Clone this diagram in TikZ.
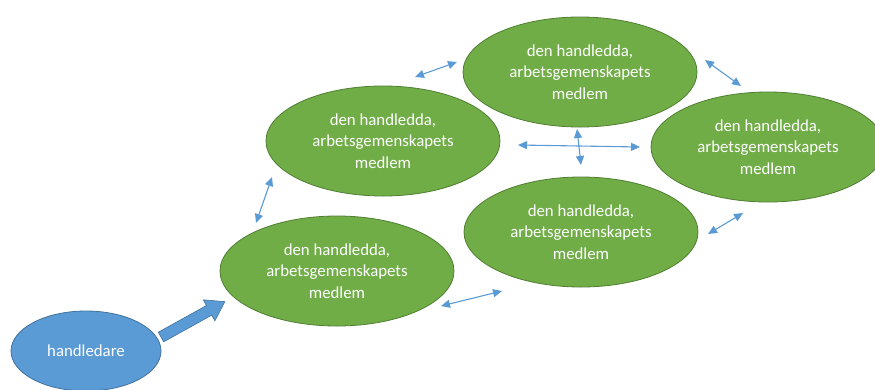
\documentclass[tikz,border=0pt]{standalone}
\usepackage{fontspec}
\setmainfont{Carlito}
\usetikzlibrary{shapes.geometric, arrows.meta}
\definecolor{memberfill}{HTML}{70AD47}
\definecolor{memberline}{HTML}{507E32}
\definecolor{leadfill}{HTML}{5B9BD5}
\definecolor{leadline}{HTML}{41719C}
\newcommand{\Medlem}{den handledda,\\ arbetsgemenskapets\\ medlem}

\begin{document}
\begin{tikzpicture}[x=1pt,y=-1pt,
    member/.style={ellipse, draw=memberline, fill=memberfill, line width=0.8pt,
        minimum width=234pt, minimum height=110pt, inner sep=0pt,
        align=center, text=white, font=\fontsize{16.8}{21.5}\selectfont},
    lead/.style={ellipse, draw=leadline, fill=leadfill, line width=0.8pt,
        minimum width=150pt, minimum height=80pt, inner sep=0pt,
        text=white, font=\fontsize{16.8}{21.5}\selectfont},
    link/.style={draw=leadfill, line width=1.1pt,
        {Triangle[length=9pt,width=8pt]}-{Triangle[length=9pt,width=8pt]}}]
    \useasboundingbox (0,0) rectangle (875,389);
    \clip (0,0) rectangle (875,389);

    % the group members
    \path (580,72) node (T) [member] {\Medlem};
    \path (383,141) node (ML) [member] {\Medlem};
    \path (768,147) node (R) [member] {\Medlem};
    \path (581,232) node (MR) [member] {\Medlem};
    \path (337,271) node (BL) [member] {\Medlem};

    % the supervisor
    \path (86,351) node (H) [lead] {handledare};

    % free ends of the small arrows
    \path (415,77) coordinate (a1) (457,62) coordinate (b1);
    \path (256,223) coordinate (a2) (272,177) coordinate (b2);
    \path (441,306) coordinate (a3) (502,291) coordinate (b3);
    \path (518,145) coordinate (a4) (640,147) coordinate (b4);
    \path (577,129) coordinate (a5) (581,165) coordinate (b5);
    \path (705,60) coordinate (a6) (741,86) coordinate (b6);
    \path (708,234) coordinate (a7) (743,213) coordinate (b7);

    \foreach \k in {1,...,7}{
        \draw [link] (a\k) -- (b\k);
    }

    % block arrow from the supervisor
    \path (161,337) coordinate (pushtail);
    \begin{scope}[shift={(pushtail)}, rotate=29]
        \draw [draw=leadline, fill=leadfill, line width=0.6pt]
        (0,-5.5) -- (55,-5.5) -- (55,-12) -- (73,0) --
        (55,12) -- (55,5.5) -- (0,5.5) -- cycle;
    \end{scope}

\end{tikzpicture}
\end{document}
